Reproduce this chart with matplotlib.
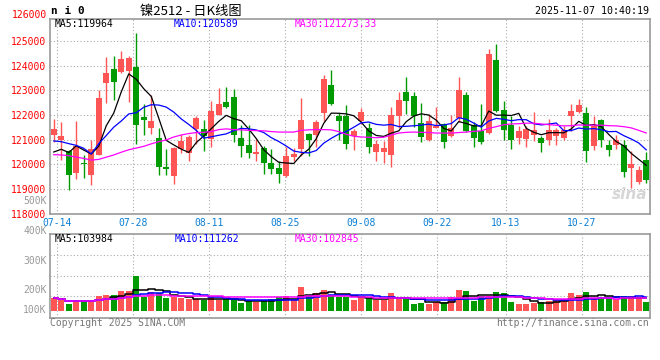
import numpy as np
import pandas as pd
import matplotlib
matplotlib.use("Agg")
import matplotlib.pyplot as plt

# daily candles, 80 sessions (07-11 .. 11-07)
open_ = [121200, 120970, 120550, 119640, 120050, 119570, 120370, 123300, 123870, 123770,
         123810, 123970, 121930, 121480, 121080, 119900, 119520, 120610, 120470, 121420,
         121420, 121020, 122010, 122540, 122740, 121080, 120770, 120430, 120650, 120040,
         119830, 119520, 120300, 120620, 121220, 121190, 122090, 123230, 121980, 121950,
         121150, 121740, 121490, 120500, 120500, 120380, 121970, 122920, 122780, 121670,
         120970, 121490, 121630, 121150, 121870, 122810, 121590, 121360, 121270, 124240,
         122200, 121590, 121060, 121020, 121190, 121080, 120970, 121150, 121060, 121970,
         122130, 122080, 120740, 121790, 120770, 120780, 120780, 119830, 119270, 120190]
high = [121840, 121700, 120600, 121770, 120370, 121000, 123000, 124370, 124400, 124610,
        124400, 125330, 122440, 122800, 121480, 120610, 120700, 121220, 121190, 121970,
        121790, 122580, 123100, 123150, 123060, 121600, 121590, 121030, 120740, 120610,
        120130, 120700, 120680, 122690, 121290, 121790, 123630, 123830, 122090, 122400,
        121420, 122270, 121680, 120970, 120950, 122310, 122920, 123560, 122920, 122480,
        122060, 122310, 121680, 121990, 123530, 122920, 121700, 122440, 124690, 124890,
        122580, 121970, 121560, 121560, 122140, 121130, 121830, 121490, 121560, 122440,
        122650, 122310, 121970, 121830, 120970, 121190, 120970, 120540, 119930, 120500]
low = [120900, 120170, 118970, 119420, 119440, 119170, 120370, 122500, 122610, 123700,
       122530, 120840, 121200, 121220, 119570, 119570, 119200, 120470, 120130, 120810,
       120540, 120700, 121990, 122300, 120900, 120290, 120240, 120130, 119610, 119590,
       119250, 119500, 120130, 120340, 120340, 120700, 121760, 122420, 120970, 120610,
       120570, 121630, 120470, 120130, 120060, 119890, 121490, 122040, 121520, 120910,
       120950, 121460, 120650, 121110, 121700, 121300, 120700, 120810, 121220, 122140,
       120970, 120610, 120810, 120700, 120950, 120500, 120780, 120780, 121000, 121360,
       122100, 120100, 120570, 120700, 120340, 120610, 119480, 119040, 119200, 119250]
close = [121440, 121130, 119570, 120750, 120000, 120640, 122710, 123730, 123330, 124300,
         124310, 121610, 121810, 121770, 119870, 119810, 120680, 120950, 121100, 121870,
         121150, 122160, 122440, 122330, 121190, 120740, 120470, 120500, 120060, 119790,
         119590, 120320, 120400, 121790, 120970, 121710, 123460, 122470, 121760, 120840,
         121340, 122140, 120700, 120840, 120650, 121990, 122610, 122580, 121970, 121110,
         121740, 121560, 120910, 121460, 123010, 121360, 121060, 120910, 124480, 122170,
         121380, 120970, 121360, 121420, 121380, 120880, 121380, 121380, 121380, 122170,
         122420, 120540, 121560, 120970, 120580, 120970, 119680, 120020, 119750, 119380]
volume = [104, 90, 56, 84, 84, 84, 123, 132, 132, 165,
          165, 294, 118, 160, 146, 104, 112, 104, 95, 95,
          90, 112, 90, 95, 95, 62, 84, 76, 84, 95,
          112, 126, 90, 202, 132, 146, 174, 132, 118, 112,
          90, 104, 104, 90, 90, 148, 104, 104, 56, 62,
          56, 76, 76, 112, 174, 165, 84, 123, 123, 160,
          151, 73, 56, 56, 67, 70, 81, 95, 95, 148,
          132, 157, 104, 104, 104, 95, 123, 123, 104, 76]
volume = [v * 1000 for v in volume]

# moving averages whose history starts before the chart
ma5_head = [120500, 120610, 120480, 120750]
ma10_head = [120950, 120920, 120840, 120770, 120650, 120420, 120840, 121170, 121510]
ma30 = [120390, 120380, 120350, 120290, 120240, 120170, 120200, 120290, 120380, 120490,
        120590, 120660, 120730, 120830, 120920, 120990, 121110, 121190, 121250, 121290,
        121300, 121330, 121410, 121440, 121410, 121400, 121380, 121370, 121360, 121330,
        121310, 121310, 121310, 121380, 121400, 121410, 121410, 121400, 121330, 121220,
        121140, 121110, 121100, 121080, 121100, 121190, 121270, 121300, 121310, 121300,
        121290, 121270, 121270, 121270, 121290, 121310, 121340, 121360, 121460, 121530,
        121610, 121640, 121650, 121670, 121670, 121640, 121610, 121590, 121560, 121570,
        121600, 121590, 121590, 121590, 121570, 121560, 121530, 121480, 121380, 121273]

date_labels = ["07-14", "07-28", "08-11", "08-25", "09-08", "09-22", "10-13", "10-27"]
date_idx = [1, 11, 21, 31, 41, 51, 60, 70]

price_ticks = list(range(118000, 126000, 1000))
vol_labels = ["500K", "400K", "300K", "200K", "100K"]

RED = "#ff5555"
GREEN = "#009b00"
GRID = "#aaaaaa"
MONO = "DejaVu Sans Mono"

W, H = 660, 360


def rect(x0, y0, x1, y1):
    return [x0 / W, 1 - y1 / H, (x1 - x0) / W, (y1 - y0) / H]


def ftext(x, y, s, **kw):
    kw.setdefault("family", MONO)
    kw.setdefault("size", 7)
    kw.setdefault("va", "center")
    fig.text(x / W, 1 - y / H, s, **kw)


n = len(close)
x = np.arange(n)
o = np.array(open_)
c = np.array(close)
up = c >= o
colors = [RED if u else GREEN for u in up]

ma5 = pd.Series(c).rolling(5).mean().to_numpy()
ma5[:4] = ma5_head
ma10 = pd.Series(c).rolling(10).mean().to_numpy()
ma10[:9] = ma10_head

vol = pd.Series(volume, dtype=float)
vma5 = vol.rolling(5, min_periods=1).mean()
vma10 = vol.rolling(10, min_periods=1).mean()
vma30 = vol.rolling(30, min_periods=1).mean()

# gridline positions drift slightly against the candles in the original
grid_x = [i * 1.0133 - 0.54 for i in date_idx]

fig = plt.figure(figsize=(6.6, 3.6), dpi=100)
fig.patch.set_facecolor("white")

# ---- price panel ----
ax = fig.add_axes(rect(50, 19, 650, 213.5))
ax.set_xlim(-0.5, n - 0.5)
ax.set_ylim(118000, 125906)

ax.vlines(x, low, high, colors=colors, linewidth=1, zorder=3)
body = np.maximum(np.abs(c - o), 40)
ax.bar(x, body, bottom=np.minimum(o, c), width=0.78, color=colors, linewidth=0, zorder=4)

ax.plot(x, ma5, color="black", lw=0.9, zorder=5)
ax.plot(x, ma10, color="#0000ff", lw=0.9, zorder=5)
ax.plot(x, ma30, color="#ff00ff", lw=0.9, zorder=5)

ax.set_yticks(price_ticks)
ax.set_yticklabels([str(t) for t in price_ticks])
ax.set_xticks(grid_x)
ax.set_xticklabels(date_labels)
ax.tick_params(length=0)
ax.tick_params(axis="y", pad=2.5, labelcolor="#ff0000", labelsize=7, labelfontfamily=MONO)
ax.tick_params(axis="x", pad=3, labelcolor="#0a7fd5", labelsize=7, labelfontfamily=MONO)
ax.grid(True, color=GRID, linestyle=(0, (1, 2)), linewidth=0.8)
ax.set_axisbelow(True)
for s in ax.spines.values():
    s.set_color("#999999")
    s.set_linewidth(1.2)

ax.text(0.995, 0.06, "sina", transform=ax.transAxes, ha="right", va="bottom",
        fontsize=11, style="italic", fontweight="bold", color="#cccccc", alpha=0.8, zorder=6)

# ---- volume panel ----
vx = fig.add_axes(rect(50, 234, 650, 318))
vx.set_xlim(-0.5, n - 0.5)
vx.set_ylim(-61600, 644000)
vx.bar(x, volume, width=0.78, color=colors, linewidth=0, zorder=3)
vx.plot(x, vma5, color="black", lw=1.1, drawstyle="steps-mid", zorder=4)
vx.plot(x, vma10, color="#0000ff", lw=1.1, drawstyle="steps-mid", zorder=4)
vx.plot(x, vma30, color="#ff00ff", lw=1.1, drawstyle="steps-mid", zorder=4)


def px2vol(py):
    return (310.67 - py) / 0.119 * 1000


vx.set_yticks([px2vol(p) for p in (255, 276, 296)])
vx.set_yticklabels([])
vx.set_xticks(grid_x)
vx.set_xticklabels([])
vx.tick_params(length=0)
vx.grid(True, color=GRID, linestyle=(0, (1, 2)), linewidth=0.8)
vx.set_axisbelow(True)
for s in vx.spines.values():
    s.set_color("#999999")
    s.set_linewidth(1.2)

# ---- texts ----
ftext(51, 11, "n i 0", weight="bold", size=8)
ftext(140, 11, "镍2512 - 日K线图", family=["Noto Sans CJK SC", "DejaVu Sans"], size=9.5)
ftext(649, 11, "2025-11-07 10:40:19", ha="right", size=7.2)

ftext(46.7, 15, "126000", ha="right", color="#ff0000")
for lab, py in zip(vol_labels, (200.5, 231, 261, 290, 310)):
    ftext(46.7, py, lab, ha="right", color="#999999")

ftext(55, 24, "MA5:119964", color="black")
ftext(174, 24, "MA10:120589", color="#0000ff")
ftext(295, 24, "MA30:121273.33", color="#ff00ff")

ftext(55, 238.5, "MA5:103984", color="black")
ftext(175, 238.5, "MA10:111262", color="#0000ff")
ftext(295, 238.5, "MA30:102845", color="#ff00ff")

ftext(50, 323.5, "Copyright 2025 SINA.COM", color="#777777")
ftext(649, 323.5, "http://finance.sina.com.cn", ha="right", color="#777777")

fig.savefig("out.png", dpi=100)
